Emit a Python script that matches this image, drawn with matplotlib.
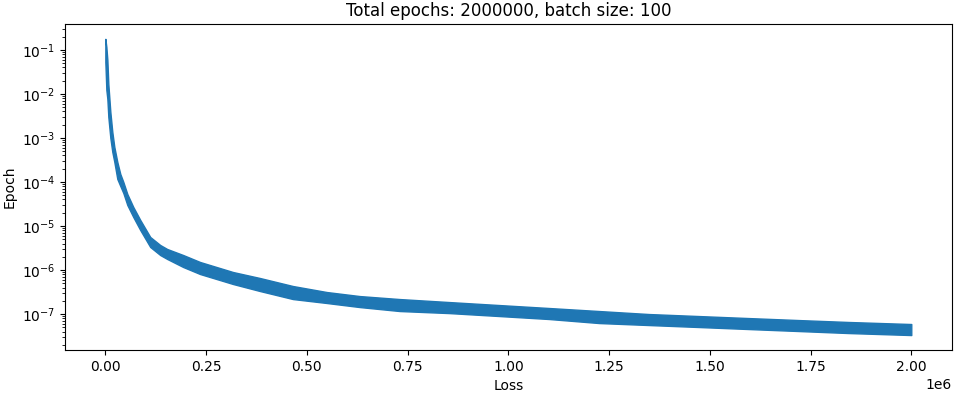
import matplotlib
matplotlib.use("Agg")
import matplotlib.pyplot as plt

# loss band (upper / lower edge of the noisy trace)
epochs = [0, 2500, 5000, 7400, 12400, 17300, 22300, 29700, 37100, 44600,
          54500, 69300, 86600, 111400, 136100, 153500, 193100, 235100, 316800,
          383700, 465300, 549500, 631200, 730200, 853900, 977700, 1101500,
          1225200, 1349000, 1472800, 1596500, 1720300, 1844100, 2000000]
loss_hi = [1.78e-1, 1.17e-1, 5.93e-2, 1.69e-2, 3.9e-3, 1.37e-3, 6.24e-4, 2.85e-4,
           1.52e-4, 1.0e-4, 5.33e-5, 2.7e-5, 1.37e-5, 5.62e-6, 3.7e-6, 3.0e-6,
           2.19e-6, 1.52e-6, 9.0e-7, 6.58e-7, 4.33e-7, 3.16e-7, 2.56e-7, 2.19e-7,
           1.87e-7, 1.6e-7, 1.37e-7, 1.17e-7, 1.0e-7, 9.0e-8, 8.1e-8, 7.3e-8,
           6.6e-8, 5.93e-8]
loss_lo = [5.33e-2, 1.23e-2, 7.69e-3, 3.0e-3, 1.0e-3, 4.81e-4, 2.85e-4, 1.17e-4,
           8.1e-5, 5.62e-5, 3.0e-5, 1.6e-5, 8.1e-6, 3.33e-6, 2.19e-6, 1.78e-6,
           1.17e-6, 8.1e-7, 4.81e-7, 3.33e-7, 2.19e-7, 1.78e-7, 1.44e-7, 1.17e-7,
           1.05e-7, 9.0e-8, 7.7e-8, 6.24e-8, 5.62e-8, 5.07e-8, 4.56e-8, 4.11e-8,
           3.7e-8, 3.33e-8]

total_epochs = 2000000
batch_size = 100

fig = plt.figure(figsize=(9.71, 3.94), dpi=100)
ax = fig.add_axes([0.067, 0.112, 0.913, 0.827])

ax.fill_between(epochs, loss_lo, loss_hi, color='C0', edgecolor='C0', linewidth=1.0)
ax.set_yscale('log')
ax.margins(x=0.05, y=0.05)

ax.set_title(f'Total epochs: {total_epochs}, batch size: {batch_size}')
ax.set_xlabel('Loss')
ax.set_ylabel('Epoch')

fig.savefig('out.png', dpi=100)
